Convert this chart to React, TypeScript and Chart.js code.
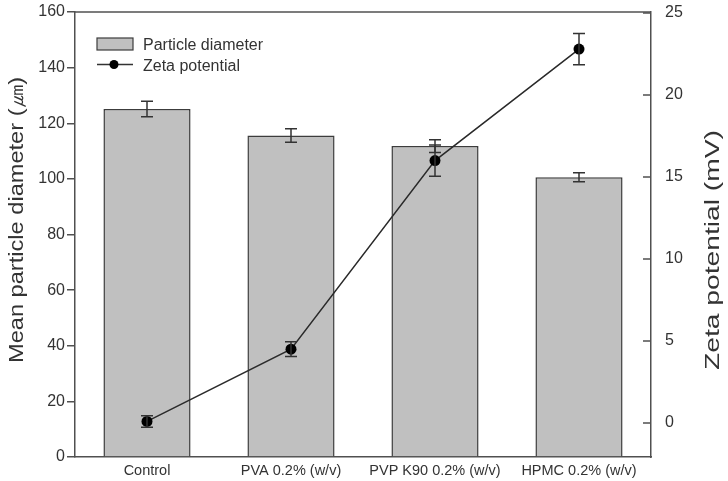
import { useEffect, useRef } from "react";
import { Chart, registerables } from "chart.js";

Chart.register(...registerables);

// Formulations on the x axis
const categories = ["Control", "PVA 0.2% (w/v)", "PVP K90 0.2% (w/v)", "HPMC 0.2% (w/v)"];

// Mean particle diameter (µm) with standard deviation
const diameter = [125.1, 115.6, 111.8, 100.6];
const diameterErr = [2.8, 2.4, 2.3, 1.6];

// Zeta potential (mV) with standard deviation
const zeta = [0.1, 4.5, 16.0, 22.8];
const zetaErr = [0.35, 0.45, 0.95, 0.95];

// Axis ticks
const diameterTicks = [0, 20, 40, 60, 80, 100, 120, 140, 160];
const zetaTicks = [0, 5, 10, 15, 20, 25];

const seriesNames = ["Particle diameter", "Zeta potential"];
const leftTitle = "Mean particle diameter (㎛)";
const rightTitle = "Zeta potential (mV)";

const FONT = "'Liberation Sans', Arial, Helvetica, sans-serif";
const INK = "#333333";
const AXIS = "#505050";
const BAR_FILL = "#c0c0c0";
const BAR_EDGE = "#3c3c3c";

function drawErrors(chart: any, datasetIndex: number, values: number[], errs: number[], scaleId: string, cap: number) {
  const ctx = chart.ctx as CanvasRenderingContext2D;
  const meta = chart.getDatasetMeta(datasetIndex);
  const scale = chart.scales[scaleId];
  ctx.save();
  ctx.strokeStyle = INK;
  ctx.lineWidth = 1.5;
  meta.data.forEach((el: any, i: number) => {
    const x = el.x;
    const top = scale.getPixelForValue(values[i] + errs[i]);
    const bot = scale.getPixelForValue(values[i] - errs[i]);
    ctx.beginPath();
    ctx.moveTo(x, top);
    ctx.lineTo(x, bot);
    ctx.moveTo(x - cap, top);
    ctx.lineTo(x + cap, top);
    ctx.moveTo(x - cap, bot);
    ctx.lineTo(x + cap, bot);
    ctx.stroke();
  });
  ctx.restore();
}

function drawStretchedTitle(ctx: CanvasRenderingContext2D, text: string, cx: number, cy: number, size: number, length: number) {
  ctx.save();
  ctx.font = `${size}px ${FONT}`;
  ctx.fillStyle = INK;
  ctx.textAlign = "center";
  ctx.textBaseline = "middle";
  const w = ctx.measureText(text).width;
  ctx.translate(cx, cy);
  ctx.rotate(-Math.PI / 2);
  ctx.scale(length / w, 1);
  ctx.fillText(text, 0, 0);
  ctx.restore();
}

const decorations = {
  id: "decorations",
  afterDatasetDraw(chart: any, args: any) {
    if (args.index === 0) drawErrors(chart, 0, diameter, diameterErr, "y", 6);
    if (args.index === 1) drawErrors(chart, 1, zeta, zetaErr, "y1", 6);
  },
  afterDraw(chart: any) {
    const ctx = chart.ctx as CanvasRenderingContext2D;
    const area = chart.chartArea;
    const y1 = chart.scales.y1;

    ctx.save();
    ctx.strokeStyle = AXIS;
    ctx.lineWidth = 1.5;
    // top edge of the frame
    ctx.beginPath();
    ctx.moveTo(area.left, area.top);
    ctx.lineTo(area.right, area.top);
    ctx.stroke();
    // inward tick marks on the right axis
    ctx.beginPath();
    zetaTicks.forEach((v) => {
      const y = y1.getPixelForValue(v);
      ctx.moveTo(area.right - 8, y);
      ctx.lineTo(area.right, y);
    });
    ctx.stroke();
    ctx.restore();

    // axis titles
    drawStretchedTitle(ctx, leftTitle, 17, 220, 21, 286);
    drawStretchedTitle(ctx, rightTitle, 713, 250, 21, 240);

    // legend in the upper-left corner of the plot
    const lx = area.left + 22;
    const boxTop = area.top + 26;
    ctx.save();
    ctx.fillStyle = BAR_FILL;
    ctx.strokeStyle = BAR_EDGE;
    ctx.lineWidth = 1.2;
    ctx.fillRect(lx, boxTop, 36, 12);
    ctx.strokeRect(lx, boxTop, 36, 12);

    const lineY = area.top + 52.5;
    ctx.strokeStyle = INK;
    ctx.lineWidth = 1.5;
    ctx.beginPath();
    ctx.moveTo(lx, lineY);
    ctx.lineTo(lx + 36, lineY);
    ctx.stroke();
    ctx.fillStyle = "#000";
    ctx.beginPath();
    ctx.arc(lx + 17, lineY, 4.5, 0, Math.PI * 2);
    ctx.fill();

    ctx.fillStyle = INK;
    ctx.font = `16px ${FONT}`;
    ctx.textAlign = "left";
    ctx.textBaseline = "alphabetic";
    ctx.fillText(seriesNames[0], lx + 46, boxTop + 12.3);
    ctx.fillText(seriesNames[1], lx + 46, lineY + 6);
    ctx.restore();
  },
};

export default function App() {
  const canvasRef = useRef<HTMLCanvasElement | null>(null);

  useEffect(() => {
    document.body.style.margin = "0";
    const canvas = canvasRef.current;
    if (!canvas) return;

    const chart = new Chart(canvas, {
      type: "bar",
      data: {
        labels: categories,
        datasets: [
          {
            type: "bar",
            label: seriesNames[0],
            data: diameter,
            yAxisID: "y",
            backgroundColor: BAR_FILL,
            borderColor: BAR_EDGE,
            borderWidth: 1.5,
            categoryPercentage: 1,
            barPercentage: 0.605,
            order: 2,
          },
          {
            type: "line",
            label: seriesNames[1],
            data: zeta,
            yAxisID: "y1",
            borderColor: "#2a2a2a",
            borderWidth: 1.5,
            tension: 0,
            pointRadius: 5.5,
            pointBackgroundColor: "#000",
            pointBorderColor: "#000",
            pointBorderWidth: 0,
            order: 1,
          },
        ],
      } as any,
      options: {
        responsive: false,
        animation: false,
        devicePixelRatio: 1,
        layout: { padding: { top: 12, bottom: 0, left: 0, right: 0 } },
        plugins: {
          legend: { display: false },
          tooltip: { enabled: false },
        },
        scales: {
          x: {
            type: "category",
            offset: true,
            grid: { display: false, drawTicks: false },
            border: { display: true, color: AXIS, width: 1.5 },
            ticks: {
              color: INK,
              font: { family: FONT, size: 14.5 },
              padding: 5,
              maxRotation: 0,
              autoSkip: false,
            },
            afterFit(scale: any) {
              scale.height = 24;
              scale.paddingLeft = 0;
              scale.paddingRight = 0;
            },
          },
          y: {
            type: "linear",
            position: "left",
            min: 0,
            max: 160,
            afterBuildTicks(scale: any) {
              scale.ticks = diameterTicks.map((v) => ({ value: v }));
            },
            grid: { drawOnChartArea: false, drawTicks: true, tickLength: 8, color: AXIS, lineWidth: 1.5 },
            border: { display: true, color: AXIS, width: 1.5 },
            ticks: { color: INK, font: { family: FONT, size: 16 }, padding: 2 },
            afterFit(scale: any) {
              scale.width = 75;
              scale.paddingTop = 0;
              scale.paddingBottom = 0;
            },
          },
          y1: {
            type: "linear",
            position: "right",
            min: -2.07,
            max: 25.06,
            afterBuildTicks(scale: any) {
              scale.ticks = zetaTicks.map((v) => ({ value: v }));
            },
            grid: { drawOnChartArea: false, drawTicks: false },
            border: { display: true, color: AXIS, width: 1.5 },
            ticks: { color: INK, font: { family: FONT, size: 16 }, padding: 14 },
            afterFit(scale: any) {
              scale.width = 77;
              scale.paddingTop = 0;
              scale.paddingBottom = 0;
            },
          },
        },
      } as any,
      plugins: [decorations],
    });

    return () => chart.destroy();
  }, []);

  return <canvas ref={canvasRef} width={728} height={481} style={{ display: "block" }} />;
}
